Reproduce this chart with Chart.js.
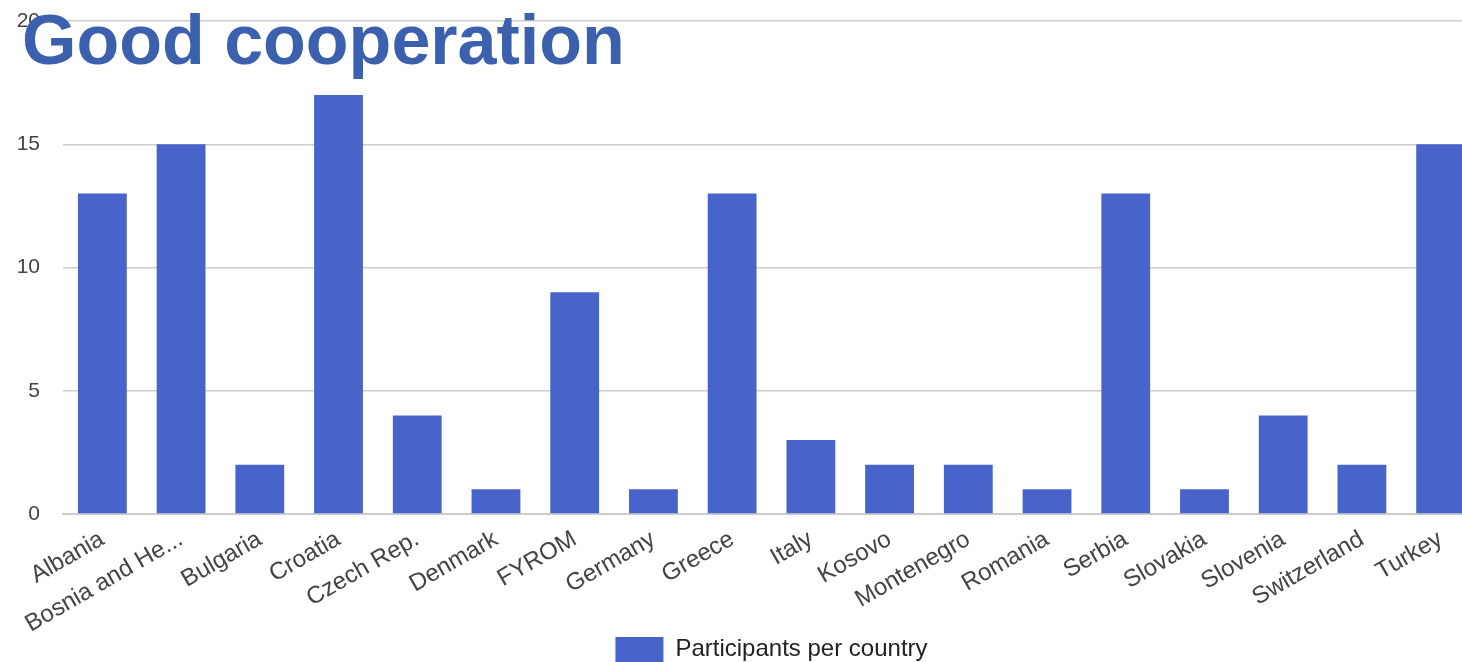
<!DOCTYPE html>
<html>
<head>
<meta charset="utf-8">
<script src="https://cdn.jsdelivr.net/npm/chart.js@4"></script>
<style>
  html, body { margin: 0; padding: 0; overflow: hidden; background: #fff; width: 1462px; height: 662px; }
  #wrap { position: absolute; left: 0; top: 0; width: 1480px; height: 672px; }
  #title { position: absolute; left: 22px; top: 0px; font-family: "Liberation Sans", Arial, sans-serif; font-weight: bold; font-size: 70px; color: #3b60ad; white-space: nowrap; pointer-events: none; }
</style>
</head>
<body>
<div id="wrap"><canvas id="c"></canvas></div>
<div id="title">Good cooperation</div>
<script>
const categories = ["Albania", "Bosnia and Herzegovina", "Bulgaria", "Croatia", "Czech Rep.", "Denmark", "FYROM", "Germany", "Greece", "Italy", "Kosovo", "Montenegro", "Romania", "Serbia", "Slovakia", "Slovenia", "Switzerland", "Turkey"];
const participants = [13, 15, 2, 17, 4, 1, 9, 1, 13, 3, 2, 2, 1, 13, 1, 4, 2, 15];
const seriesName = "Participants per country";
const yTicks = [0, 5, 10, 15, 20];

new Chart(document.getElementById('c'), {
  type: 'bar',
  data: {
    labels: categories,
    datasets: [{
      label: seriesName,
      data: participants,
      backgroundColor: '#4863c9',
      borderWidth: 0,
      barPercentage: 0.62,
      categoryPercentage: 1.0
    }]
  },
  options: {
    responsive: true,
    maintainAspectRatio: false,
    animation: false,
    layout: { padding: { top: 21, left: 0, right: 0, bottom: 0 } },
    plugins: {
      legend: {
        position: 'bottom',
        fullSize: false,
        labels: {
          boxWidth: 48, boxHeight: 25, color: '#222',
          font: { family: '"Liberation Sans", Arial, sans-serif', size: 24 },
          padding: 5
        }
      },
      tooltip: { enabled: false }
    },
    scales: {
      x: {
        afterFit: (axis) => { axis.height = 118; },
        grid: { display: false },
        border: { color: '#cccccc', width: 2 },
        ticks: {
          color: '#444',
          font: { family: '"Liberation Sans", Arial, sans-serif', size: 24 },
          maxRotation: 30, minRotation: 30, autoSkip: false,
          callback: function(v, i) {
            const s = categories[i];
            return s.length > 15 ? s.slice(0, 13) + '...' : s;
          }
        }
      },
      y: {
        min: 0, max: 20,
        afterBuildTicks: (axis) => { axis.ticks = yTicks.map(v => ({ value: v })); },
        afterFit: (axis) => { axis.width = 63; axis.paddingTop = 0; axis.paddingBottom = 0; },
        grid: { color: '#cccccc', lineWidth: 1.5, drawTicks: false },
        border: { display: false },
        ticks: {
          color: '#444', padding: 23,
          font: { family: '"Liberation Sans", Arial, sans-serif', size: 21 }
        }
      }
    }
  }
});
</script>
</body>
</html>
